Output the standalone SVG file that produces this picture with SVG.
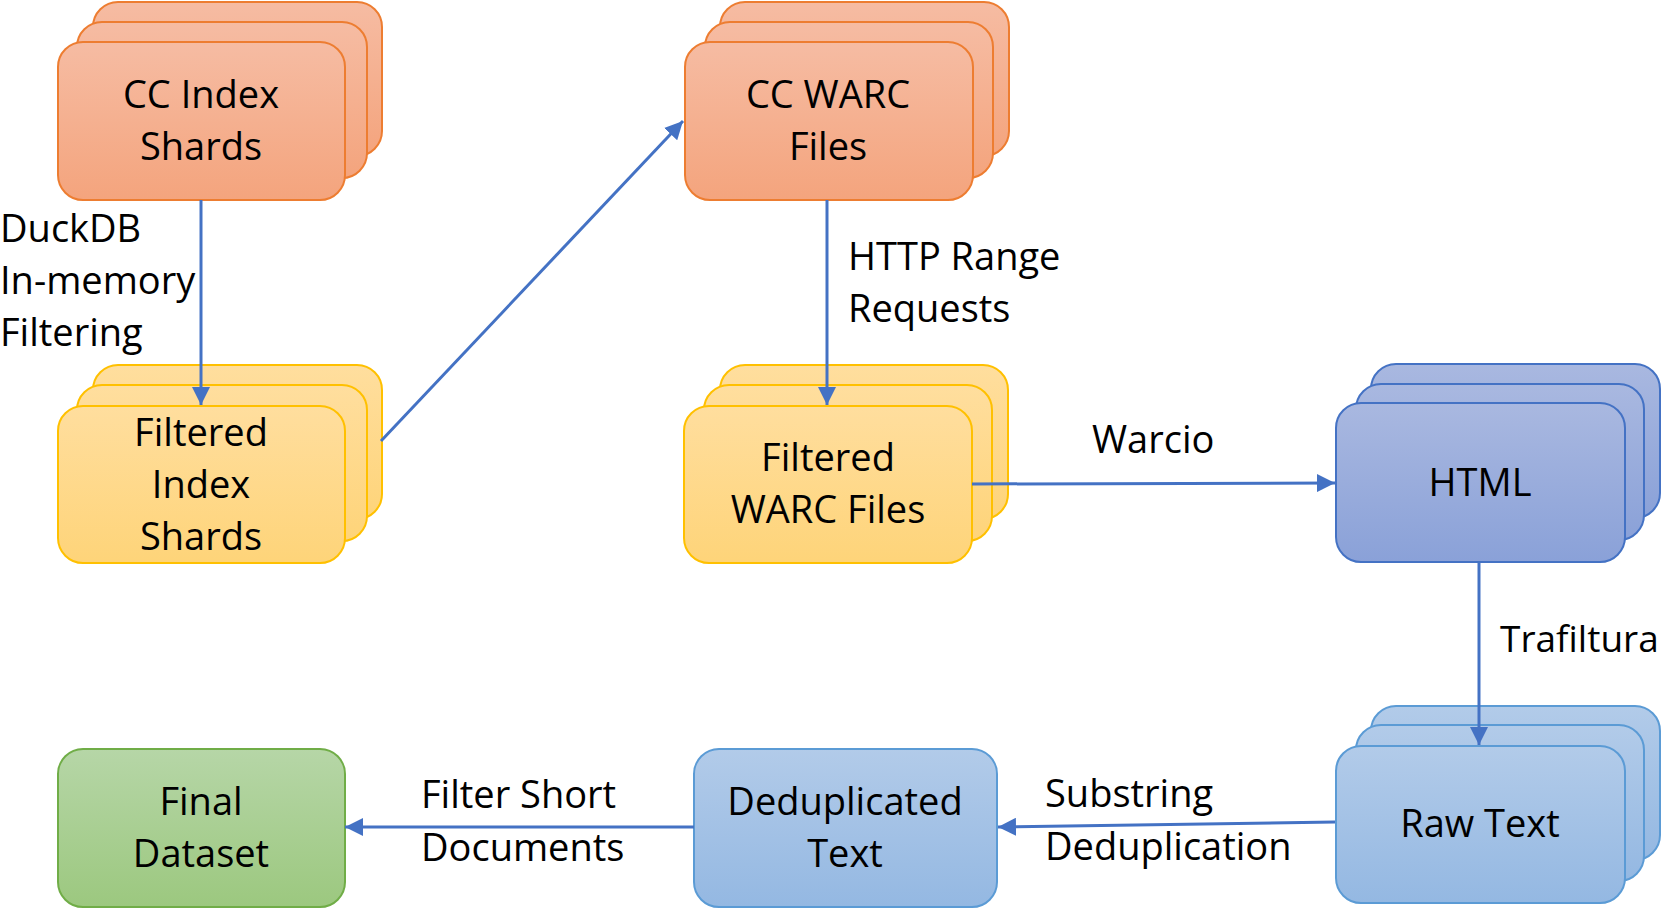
<svg xmlns="http://www.w3.org/2000/svg" width="1661" height="910" viewBox="0 0 1661 910">
<style>
text{font-family:"Open Sans","Noto Sans","Liberation Sans",sans-serif;font-size:38px;fill:#000}
.c{text-anchor:middle}
.o{fill:url(#gO);stroke:#ED7D31;stroke-width:2}
.y{fill:url(#gY);stroke:#FFC000;stroke-width:2}
.b{fill:url(#gB);stroke:#4472C4;stroke-width:2}
.l{fill:url(#gL);stroke:#5B9BD5;stroke-width:2}
.g{fill:url(#gG);stroke:#70AD47;stroke-width:2}
.e{stroke:#4472C4;stroke-width:3;fill:none;marker-end:url(#ah)}
</style>
<defs>
<linearGradient id="gO" x1="0" y1="0" x2="0" y2="1"><stop offset="0" stop-color="#F6BCA3"/><stop offset="1" stop-color="#F4A47D"/></linearGradient>
<linearGradient id="gY" x1="0" y1="0" x2="0" y2="1"><stop offset="0" stop-color="#FFDE9E"/><stop offset="1" stop-color="#FED479"/></linearGradient>
<linearGradient id="gB" x1="0" y1="0" x2="0" y2="1"><stop offset="0" stop-color="#A9B8E0"/><stop offset="1" stop-color="#8AA1D8"/></linearGradient>
<linearGradient id="gL" x1="0" y1="0" x2="0" y2="1"><stop offset="0" stop-color="#B2CBE9"/><stop offset="1" stop-color="#94B8E2"/></linearGradient>
<linearGradient id="gG" x1="0" y1="0" x2="0" y2="1"><stop offset="0" stop-color="#B6D6A7"/><stop offset="1" stop-color="#9CC87F"/></linearGradient>
<marker id="ah" markerUnits="userSpaceOnUse" markerWidth="18" markerHeight="18" refX="18" refY="9" orient="auto"><path d="M0,0 L18,9 L0,18 z" fill="#4472C4"/></marker>
</defs>

<g id="cc-index-shards">
<rect class="o" x="93" y="2" width="289" height="154" rx="25"/>
<rect class="o" x="77" y="22" width="290" height="156" rx="25"/>
<rect class="o" x="58" y="42" width="287" height="158" rx="25"/>
<text class="c" x="201" y="108">CC Index</text>
<text class="c" x="201" y="160">Shards</text>
</g>

<g id="filtered-index-shards">
<rect class="y" x="93" y="365" width="289" height="154" rx="25"/>
<rect class="y" x="77" y="385" width="290" height="156" rx="25"/>
<rect class="y" x="58" y="406" width="287" height="157" rx="25"/>
<text class="c" x="201" y="446">Filtered</text>
<text class="c" x="201" y="498">Index</text>
<text class="c" x="201" y="550">Shards</text>
</g>

<g id="cc-warc-files">
<rect class="o" x="720" y="2" width="289" height="154" rx="25"/>
<rect class="o" x="705" y="22" width="288" height="156" rx="25"/>
<rect class="o" x="685" y="42" width="288" height="158" rx="25"/>
<text class="c" x="828" y="108">CC WARC</text>
<text class="c" x="828" y="160">Files</text>
</g>

<g id="filtered-warc-files">
<rect class="y" x="720" y="365" width="288" height="154" rx="25"/>
<rect class="y" x="704" y="385" width="288" height="156" rx="25"/>
<rect class="y" x="684" y="406" width="288" height="157" rx="25"/>
<text class="c" x="828" y="471">Filtered</text>
<text class="c" x="828" y="523">WARC Files</text>
</g>

<g id="html">
<rect class="b" x="1371" y="364" width="289" height="154" rx="25"/>
<rect class="b" x="1356" y="384" width="288" height="156" rx="25"/>
<rect class="b" x="1336" y="403" width="289" height="159" rx="25"/>
<text class="c" x="1480" y="496">HTML</text>
</g>

<g id="raw-text">
<rect class="l" x="1371" y="706" width="289" height="154" rx="25"/>
<rect class="l" x="1356" y="725" width="288" height="156" rx="25"/>
<rect class="l" x="1336" y="746" width="289" height="157" rx="25"/>
<text class="c" x="1480" y="837">Raw Text</text>
</g>

<g id="deduplicated-text">
<rect class="l" x="694" y="749" width="303" height="158" rx="25"/>
<text class="c" x="845" y="815">Deduplicated</text>
<text class="c" x="845" y="867">Text</text>
</g>

<g id="final-dataset">
<rect class="g" x="58" y="749" width="287" height="158" rx="25"/>
<text class="c" x="201" y="815">Final</text>
<text class="c" x="201" y="867">Dataset</text>
</g>

<g id="connectors">
<line class="e" x1="201" y1="200" x2="201" y2="405"/>
<line class="e" x1="381" y1="441" x2="683" y2="121"/>
<line class="e" x1="827" y1="200" x2="827" y2="405"/>
<line class="e" x1="972" y1="484" x2="1335" y2="483"/>
<line class="e" x1="1479" y1="562" x2="1479" y2="745"/>
<line class="e" x1="1335" y1="822" x2="998" y2="827"/>
<line class="e" x1="694" y1="827" x2="345" y2="827"/>
</g>

<g id="labels">
<text x="0" y="242">DuckDB</text>
<text x="0" y="294">In-memory</text>
<text x="0" y="346">Filtering</text>
<text x="848" y="270">HTTP Range</text>
<text x="848" y="322">Requests</text>
<text x="1092" y="453">Warcio</text>
<text x="1500" y="652" style="font-size:37px">Trafiltura</text>
<text x="1045" y="807">Substring</text>
<text x="1045" y="860">Deduplication</text>
<text x="421" y="808">Filter Short</text>
<text x="421" y="861">Documents</text>
</g>
</svg>
